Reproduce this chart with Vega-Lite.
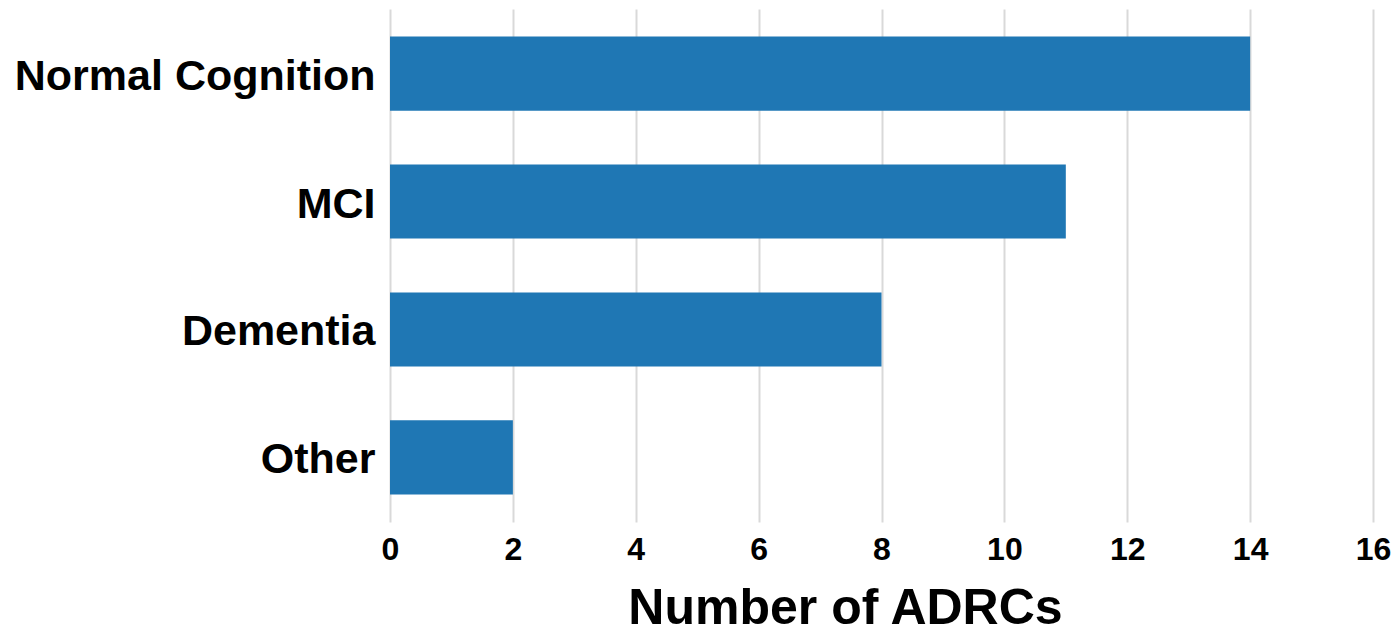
{
  "$schema": "https://vega.github.io/schema/vega-lite/v6.json",
  "width": 983,
  "height": 513,
  "autosize": {"type": "none"},
  "padding": {"left": 390, "top": 9, "right": 20, "bottom": 111},
  "background": "white",
  "config": {
    "view": {"stroke": null},
    "font": "Liberation Sans"
  },
  "data": {
    "values": [
      {"category": "Normal Cognition", "count": 14},
      {"category": "MCI", "count": 11},
      {"category": "Dementia", "count": 8},
      {"category": "Other", "count": 2}
    ]
  },
  "mark": {"type": "bar", "color": "#1f77b4"},
  "encoding": {
    "y": {
      "field": "category",
      "type": "nominal",
      "sort": ["Normal Cognition", "MCI", "Dementia", "Other"],
      "scale": {"paddingInner": 0.42, "paddingOuter": 0.214},
      "axis": {
        "title": null,
        "domain": false,
        "ticks": false,
        "grid": false,
        "labelFont": "Liberation Sans",
        "labelFontWeight": "bold",
        "labelFontSize": 43,
        "labelColor": "black",
        "labelPadding": 15,
        "labelOffset": 3,
        "labelLimit": 500
      }
    },
    "x": {
      "field": "count",
      "type": "quantitative",
      "scale": {"domain": [0, 16], "nice": false},
      "axis": {
        "title": "Number of ADRCs",
        "values": [0, 2, 4, 6, 8, 10, 12, 14, 16],
        "domain": false,
        "ticks": false,
        "grid": true,
        "gridColor": "#d9d9d9",
        "gridWidth": 2,
        "labelFont": "Liberation Sans",
        "labelFontWeight": "bold",
        "labelFontSize": 32,
        "labelColor": "black",
        "labelPadding": 12,
        "labelFlush": false,
        "titleFont": "Liberation Sans",
        "titleFontWeight": "bold",
        "titleFontSize": 50,
        "titleColor": "black",
        "titleX": 455,
        "titleY": 101,
        "titleBaseline": "alphabetic",
        "titleAlign": "center",
        "titleAnchor": null
      }
    }
  }
}
